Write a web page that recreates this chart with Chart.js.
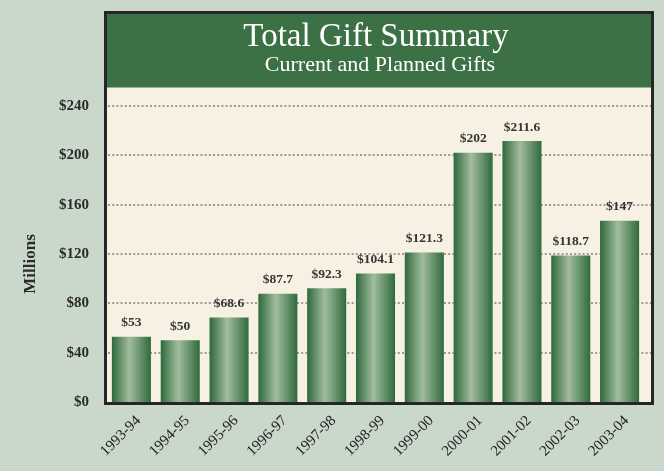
<!DOCTYPE html>
<html>
<head>
<meta charset="utf-8">
<script src="https://cdn.jsdelivr.net/npm/chart.js@4.4.1/dist/chart.umd.min.js"></script>
<style>
  body { margin: 0; background: #cad8cb; }
  #wrap { width: 664px; height: 471px; }
</style>
</head>
<body>
<div id="wrap"><canvas id="chart" width="664" height="471"></canvas></div>
<script>
// data
const years = ['1993-94','1994-95','1995-96','1996-97','1997-98','1998-99','1999-00','2000-01','2001-02','2002-03','2003-04']
const gifts = [53, 50, 68.6, 87.7, 92.3, 104.1, 121.3, 202, 211.6, 118.7, 147]
const yTicks = [0, 40, 80, 120, 160, 200, 240]

const serif = '"Liberation Serif", "Times New Roman", serif'

// frame, header, gridlines, value labels
const decor = {
    id: 'decor',
    beforeDraw(chart) {
        const c = chart.ctx, a = chart.chartArea
        c.save()
        c.fillStyle = '#cad8cb'
        c.fillRect(0, 0, chart.width, chart.height)
        c.fillStyle = '#f6f1e2'
        c.fillRect(107, 14, 544, 389)
        c.fillStyle = '#3c7045'
        c.fillRect(107, 14, 544, a.top - 14)
        c.fillStyle = '#ffffff'
        c.textAlign = 'center'
        c.textBaseline = 'alphabetic'
        c.font = '33px ' + serif
        c.fillText('Total Gift Summary', 376, 46)
        c.font = '22px ' + serif
        c.fillText('Current and Planned Gifts', 380, 71)
        // axis title
        c.translate(31, 264)
        c.rotate(-Math.PI / 2)
        c.fillStyle = '#2b2b2b'
        c.font = 'bold 17px ' + serif
        c.textBaseline = 'middle'
        c.fillText('Millions', 0, 0)
        c.restore()
    },
    beforeDatasetsDraw(chart) {
        const c = chart.ctx, y = chart.scales.y
        c.save()
        c.strokeStyle = '#9a9a9a'
        c.lineWidth = 2
        c.setLineDash([2, 2.2])
        yTicks.forEach(v => {
            if (v === 0) return
            const py = Math.round(y.getPixelForValue(v))
            c.beginPath()
            c.moveTo(108, py)
            c.lineTo(651, py)
            c.stroke()
        })
        c.restore()
    },
    afterDatasetsDraw(chart) {
        const c = chart.ctx
        c.save()
        c.fillStyle = '#353535'
        c.font = 'bold 13.5px ' + serif
        c.textAlign = 'center'
        c.textBaseline = 'middle'
        chart.getDatasetMeta(0).data.forEach((bar, i) => {
            c.fillText('$' + gifts[i], bar.x, bar.y - 14)
        })
        c.strokeStyle = '#262626'
        c.lineWidth = 3
        c.strokeRect(105.5, 12.5, 547, 391)
        c.restore()
    }
}

function barFill(ctx) {
    const chart = ctx.chart
    const x = chart.scales.x
    if (!chart.chartArea || !x || ctx.type !== 'data') return '#3c7045'
    const cx = x.getPixelForValue(ctx.dataIndex)
    const half = x.width / years.length * 0.4
    const g = chart.ctx.createLinearGradient(cx - half, 0, cx + half, 0)
    g.addColorStop(0, '#2e693b')
    g.addColorStop(0.45, '#a2bc9f')
    g.addColorStop(1, '#2f6a3c')
    return g
}

new Chart(document.querySelector('#chart').getContext('2d'), {
    type: 'bar',
    data: {
        labels: years,
        datasets: [{
            label: 'Total gifts',
            data: gifts,
            backgroundColor: barFill,
            borderWidth: 0,
            categoryPercentage: 1,
            barPercentage: 0.8
        }]
    },
    options: {
        responsive: false,
        animation: false,
        layout: { padding: { top: 87.5, right: 20, left: 0, bottom: 0 } },
        plugins: {
            legend: { display: false },
            tooltip: { enabled: false }
        },
        scales: {
            x: {
                grid: { display: false },
                border: { display: false },
                afterFit: s => { s.height = 69 },
                ticks: {
                    minRotation: 45,
                    maxRotation: 45,
                    padding: 2,
                    labelOffset: 7,
                    color: '#1e1e1e',
                    font: { family: serif, size: 15 }
                }
            },
            y: {
                min: 0,
                max: 255,
                grid: { display: false },
                border: { display: false },
                afterFit: s => { s.width = 107 },
                afterBuildTicks: s => { s.ticks = yTicks.map(v => ({ value: v })) },
                ticks: {
                    padding: 10,
                    color: '#2b2b2b',
                    font: { family: serif, size: 15, weight: 'bold' },
                    callback: v => '$' + v
                }
            }
        }
    },
    plugins: [decor]
})
</script>
</body>
</html>
